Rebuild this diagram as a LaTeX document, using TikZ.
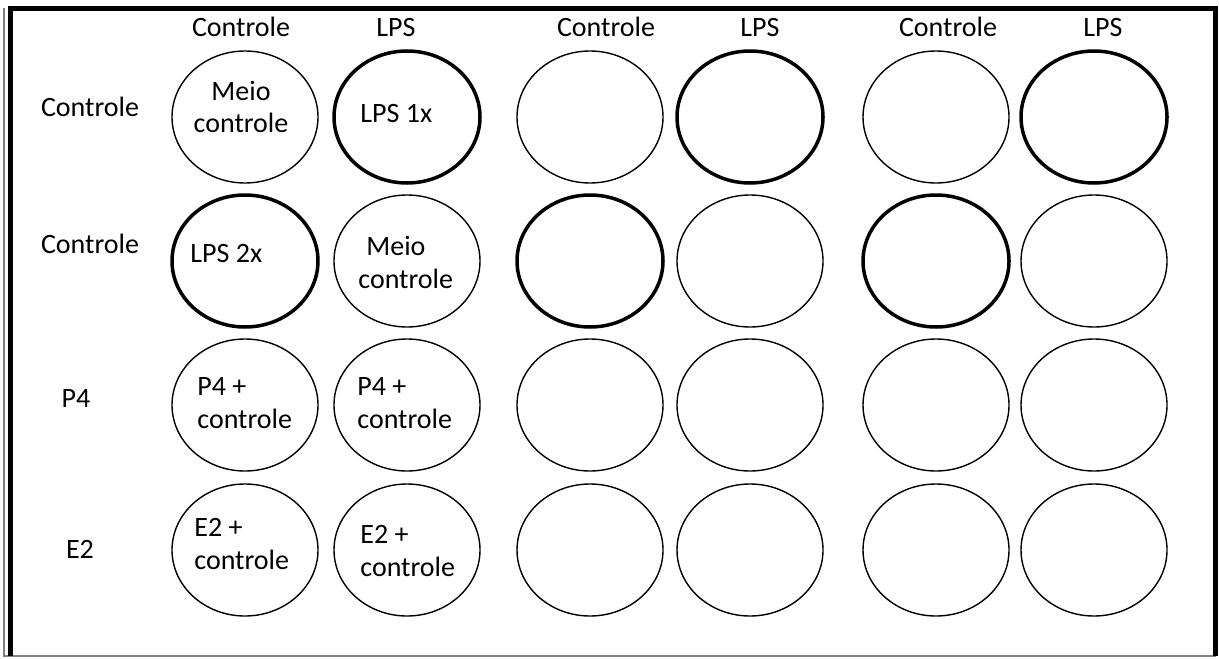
\documentclass[tikz,border=0pt]{standalone}
\usepackage{fontspec}
\setmainfont{Carlito}
\usetikzlibrary{shapes.geometric}

\begin{document}
\begin{tikzpicture}[x=0.5pt,y=-0.5pt,
  well/.style={ellipse,draw,line width=0.7pt,minimum width=73pt,minimum height=66pt,inner sep=0pt},
  lpswell/.style={well,line width=1.75pt},
  txt/.style={font=\fontsize{14}{16.5}\selectfont,inner sep=0pt,align=left}]
\useasboundingbox (0,0) rectangle (1219,658);

% frame
\draw[line width=0.6pt,gray] (4,8) -- (4,656) -- (1216,656);
\draw[line width=2.5pt] (10,656) -- (10,8.5) -- (1215.5,8.5) -- (1215.5,656);

% wells
\foreach \r/\y/\sa/\sb in {1/117/well/lpswell,2/261/lpswell/well,3/405/well/well,4/550/well/well}{
  \foreach \c/\x in {1/245,3/590,5/936}
    \node[\sa] (w\r\c) at (\x,\y) {};
  \foreach \c/\x in {2/407,4/750,6/1094}
    \node[\sb] (w\r\c) at (\x,\y) {};
}

% column heads
\foreach \c/\x/\t in {1/241/Controle,2/396/LPS,3/606/Controle,4/760/LPS,5/948/Controle,6/1103/LPS}
  \node[txt,anchor=base] (h\c) at (\x,37) {\t};

% row heads
\node[txt,anchor=base] (r1) at (90,117) {Controle};
\node[txt,anchor=base] (r2) at (90,253) {Controle};
\node[txt,anchor=base] (r3) at (76,407) {P4};
\node[txt,anchor=base] (r4) at (80,558) {E2};

% well texts (base = last line)
\node[txt,align=center,anchor=base] (t11) at (241,133) {Meio\\controle};
\node[txt,anchor=base west] (t12) at (360,122) {LPS 1x};
\node[txt,anchor=base west] (t21) at (190,262) {LPS 2x};
\node[txt,anchor=base west] (t22) at (358,288) {\hspace{4pt}Meio\\controle};
\node[txt,anchor=base west] (t31) at (197,428) {P4 +\\controle};
\node[txt,anchor=base west] (t32) at (357,428) {P4 +\\controle};
\node[txt,anchor=base west] (t41) at (194,569) {E2 +\\controle};
\node[txt,anchor=base west] (t42) at (360,576) {E2 +\\controle};

\end{tikzpicture}
\end{document}
